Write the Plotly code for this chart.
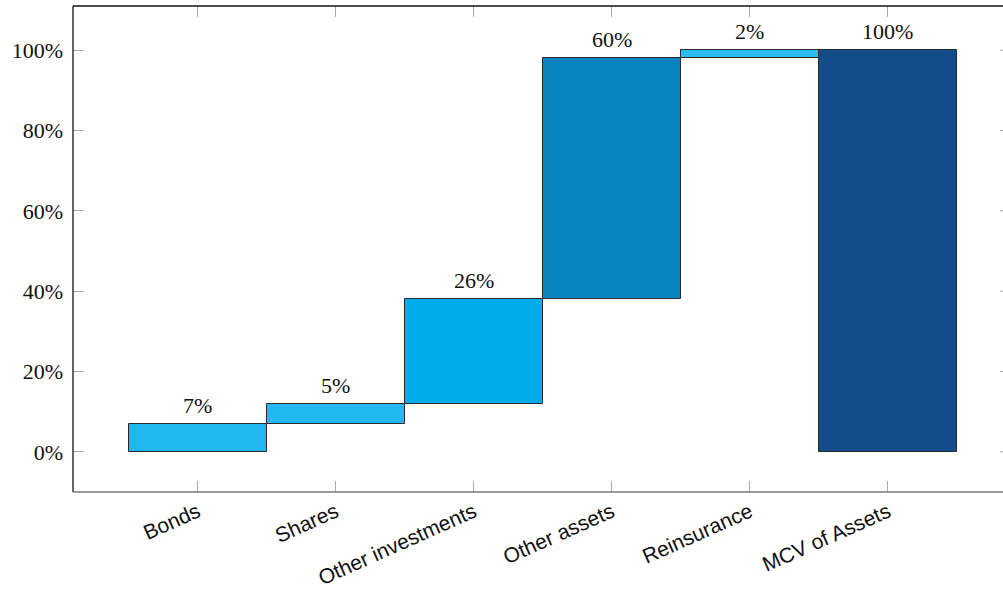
import plotly.graph_objects as go

# Contributions to the market-consistent value of assets
categories = ["Bonds", "Shares", "Other investments", "Other assets", "Reinsurance", "MCV of Assets"]
values = [7, 5, 26, 60, 2, 100]
is_total = [False, False, False, False, False, True]
labels = ["7%", "5%", "26%", "60%", "2%", "100%"]
bar_colors = ["#21b6ee", "#23b8ef", "#00ade8", "#0a84c1", "#2bbcf0", "#124d89"]
y_ticks = [0, 20, 40, 60, 80, 100]

# running base for the floating bars; the total bar starts at zero
bases = []
running = 0
for v, tot in zip(values, is_total):
    if tot:
        bases.append(0)
    else:
        bases.append(running)
        running += v

x_pos = list(range(len(categories)))

fig = go.Figure(
    go.Bar(
        x=x_pos,
        y=values,
        base=bases,
        width=1.0,
        marker=dict(color=bar_colors, line=dict(color="#2a2a2a", width=1)),
        hoverinfo="skip",
    )
)

serif = "Liberation Serif, DejaVu Serif, serif"
sans = "Liberation Sans, Arial, sans-serif"

for xi, b, v, lab in zip(x_pos, bases, values, labels):
    fig.add_annotation(
        x=xi, y=b + v, text=lab, showarrow=False,
        yanchor="bottom", yshift=4,
        font=dict(family=serif, size=22, color="#111111"),
    )

axis_lines = [
    dict(x0=0, x1=0, y0=0, y1=1, color="#111111"),
    dict(x0=0, x1=1, y0=1, y1=1, color="#111111"),
    dict(x0=0, x1=1, y0=0, y1=0, color="#777777"),
]
for ln in axis_lines:
    fig.add_shape(
        type="line", xref="paper", yref="paper",
        x0=ln["x0"], x1=ln["x1"], y0=ln["y0"], y1=ln["y1"],
        line=dict(color=ln["color"], width=1.3), layer="above",
    )

# the right frame sits just past the page edge, so only the tips of its ticks show
plot_width = 1003 - 73
for t in y_ticks:
    fig.add_shape(
        type="line", xref="paper", yref="y",
        x0=1 - 3 / plot_width, x1=1, y0=t, y1=t,
        line=dict(color="#a8a8a8", width=1),
    )

fig.update_layout(
    width=1003,
    height=594,
    margin=dict(l=73, r=0, t=6, b=102),
    paper_bgcolor="white",
    plot_bgcolor="white",
    showlegend=False,
    bargap=0,
    xaxis=dict(
        range=[-0.903, 5.833],
        tickvals=x_pos,
        ticktext=categories,
        tickangle=-24,
        ticks="inside",
        ticklen=11,
        tickcolor="#a8a8a8",
        tickwidth=1,
        mirror="ticks",
        showline=False,
        showgrid=False,
        zeroline=False,
        ticklabelstandoff=3,
        tickfont=dict(family=sans, size=21, color="#111111"),
    ),
    yaxis=dict(
        range=[-10, 111],
        tickvals=y_ticks,
        ticktext=[f"{t}%" for t in y_ticks],
        ticks="inside",
        ticklen=11,
        tickcolor="#a8a8a8",
        tickwidth=1,
        showline=False,
        showgrid=False,
        zeroline=False,
        ticklabelstandoff=9,
        tickfont=dict(family=serif, size=22, color="#111111"),
    ),
)

fig.write_html("out.html")
